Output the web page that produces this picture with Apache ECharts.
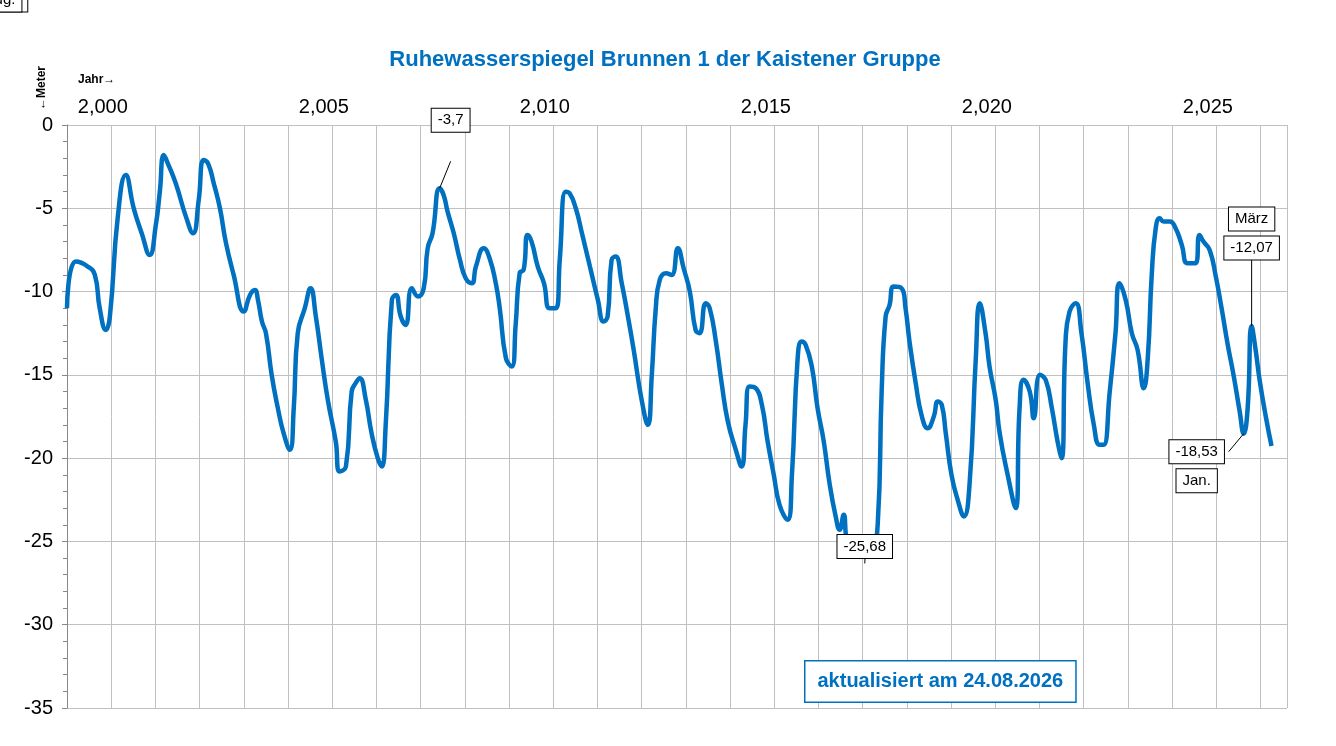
<!DOCTYPE html>
<html>
<head>
<meta charset="utf-8">
<script src="https://cdn.jsdelivr.net/npm/echarts@6/dist/echarts.min.js"></script>
<style>
  html, body { margin: 0; padding: 0; background: #fff; }
  #main { width: 1336px; height: 746px; }
</style>
</head>
<body>
<div id="main"></div>
<script>
// decimal year, water level in metres
const years = [1999.19,1999.39,1999.66,1999.82,1999.93,2000.07,2000.16,2000.34,2000.52,2000.70,2000.88,2001.06,2001.20,2001.29,2001.38,2001.47,2001.65,2001.88,2002.04,2002.17,2002.28,2002.38,2002.51,2002.65,2002.78,2002.96,2003.19,2003.33,2003.44,2003.51,2003.60,2003.69,2003.82,2003.96,2004.09,2004.23,2004.32,2004.41,2004.57,2004.70,2004.82,2004.95,2005.09,2005.27,2005.36,2005.50,2005.63,2005.72,2005.81,2005.95,2006.08,2006.22,2006.31,2006.40,2006.54,2006.63,2006.74,2006.85,2006.99,2007.13,2007.26,2007.35,2007.46,2007.62,2007.71,2007.80,2007.94,2008.08,2008.21,2008.35,2008.44,2008.62,2008.75,2008.89,2008.98,2009.12,2009.25,2009.34,2009.43,2009.52,2009.61,2009.70,2009.84,2009.98,2010.11,2010.25,2010.34,2010.47,2010.56,2010.70,2010.84,2011.02,2011.20,2011.33,2011.42,2011.51,2011.60,2011.74,2011.88,2012.01,2012.19,2012.33,2012.42,2012.51,2012.60,2012.74,2012.87,2013.01,2013.14,2013.28,2013.41,2013.50,2013.64,2013.73,2013.87,2014.00,2014.14,2014.32,2014.45,2014.54,2014.63,2014.77,2014.91,2015.04,2015.18,2015.31,2015.49,2015.59,2015.72,2015.81,2015.90,2016.04,2016.17,2016.31,2016.44,2016.58,2016.67,2016.76,2016.85,2016.99,2017.12,2017.26,2017.39,2017.53,2017.62,2017.71,2017.80,2017.89,2018.07,2018.16,2018.25,2018.39,2018.53,2018.66,2018.80,2018.89,2018.98,2019.07,2019.20,2019.34,2019.48,2019.61,2019.75,2019.84,2019.97,2020.06,2020.20,2020.29,2020.47,2020.65,2020.74,2020.83,2020.97,2021.06,2021.20,2021.33,2021.47,2021.60,2021.69,2021.78,2021.87,2022.01,2022.14,2022.28,2022.42,2022.55,2022.64,2022.78,2022.91,2023.00,2023.14,2023.28,2023.41,2023.55,2023.64,2023.73,2023.82,2023.91,2024.00,2024.14,2024.27,2024.41,2024.54,2024.72,2024.81,2024.90,2025.04,2025.18,2025.31,2025.45,2025.58,2025.72,2025.81,2025.90,2025.99,2026.08,2026.17,2026.31,2026.44];
const levels = [-11,-8.2,-8.5,-9,-11,-12.3,-11.5,-5.5,-3,-5,-6.5,-7.8,-6,-4,-1.8,-2.3,-3.5,-5.5,-6.5,-4.5,-2.1,-2.3,-3.5,-5,-7,-9,-11.2,-10.2,-9.9,-10.5,-11.8,-12.5,-15,-17,-18.5,-19.5,-17,-12.5,-11,-9.8,-11.5,-14,-16.5,-19,-20.8,-20.5,-16,-15.5,-15.2,-16.5,-18.5,-20,-20.5,-18,-10.5,-10.2,-11.5,-12,-9.8,-10.3,-9.8,-7.4,-6.5,-3.8,-4.2,-5.2,-6.5,-8.1,-9.2,-9.5,-8.5,-7.4,-8,-9.5,-11,-14,-14.5,-12,-8.9,-8.7,-6.6,-7,-8.5,-9.5,-11,-11,-8,-4,-4.1,-5,-6.5,-8.5,-10.5,-11.8,-11.5,-8.1,-7.9,-9.5,-11.5,-13.5,-16.5,-18,-15,-11,-9.3,-8.9,-9,-7.4,-8.6,-10,-12.3,-12.5,-10.7,-11,-13,-15.5,-17.8,-19.5,-20.5,-18,-15.7,-15.8,-16.8,-19,-21,-22.8,-23.7,-21,-14,-13,-13.2,-14.5,-17,-19,-21.5,-23.5,-24.3,-23.4,-25.2,-25.6,-25.68,-25.3,-25.5,-24,-16,-11.5,-10.8,-9.7,-9.8,-11,-13,-15.5,-17.5,-18.2,-17.5,-16.6,-16.8,-18.5,-21,-22.5,-23.5,-21.5,-14,-10.7,-12.5,-14.5,-16.5,-18.5,-21,-23,-17,-15.3,-16,-17.6,-15,-15.3,-17,-19,-20,-13,-11.2,-10.7,-12.5,-15.5,-18,-19.2,-19.2,-16,-12.5,-9.5,-10.5,-12.5,-13.5,-15.8,-14,-9,-6.2,-5.6,-5.8,-5.8,-6.2,-7.2,-8.3,-8.3,-6.6,-7,-7.5,-9.1,-11,-13.2,-15,-17.2,-18.53,-17,-12.07,-13.5,-15.3,-17.5,-19.27];
const yearLabels = [2000, 2005, 2010, 2015, 2020, 2025];
// annotations: point index, text lines, box offset (px) from point
const notes = [
  { i: 63, lines: ['-3,7'], dx: 11, dy: -39 },
  { i: 141, lines: ['-25,68'], dx: -1, dy: 29 },
  { i: 212, lines: ['-18,53', 'Jan.'], dx: -47, dy: 18 },
  { i: 214, lines: ['März', '-12,07'], dx: 0, dy: -78 },
  { i: 219, lines: ['-19,27', 'Aug.'], dx: -21, dy: 66 }
];

const chart = echarts.init(document.getElementById('main'));
const font = 'Liberation Sans, Arial, sans-serif';
chart.setOption({
  animation: false,
  title: {
    text: 'Ruhewasserspiegel Brunnen 1 der Kaistener Gruppe',
    left: 660, top: 44, textAlign: 'center',
    textStyle: { color: '#0070C0', fontSize: 22, fontWeight: 'bold', fontFamily: font }
  },
  grid: { left: 67, right: 49, top: 125, bottom: 38 },
  xAxis: [{
    type: 'value', position: 'top', min: 1999.19, max: 2026.79,
    axisLine: { show: false }, axisTick: { show: false }, splitLine: { show: false },
    axisLabel: { customValues: yearLabels, fontSize: 20, color: '#000', fontFamily: font, margin: 8 }
  }, {
    type: 'value', min: 0, max: 27.6, interval: 1, position: 'bottom',
    axisLabel: { show: false }, axisTick: { show: false }, axisLine: { show: false },
    splitLine: { lineStyle: { color: '#c0c0c0' } }
  }],
  yAxis: {
    type: 'value', min: -35, max: 0, interval: 5,
    axisLabel: { fontSize: 20, color: '#000', fontFamily: font, margin: 14 },
    axisLine: { show: true, lineStyle: { color: '#888' } },
    axisTick: { show: true, inside: false, length: 5, lineStyle: { color: '#888' } },
    minorTick: { show: true, splitNumber: 5, length: 4, lineStyle: { color: '#888' } },
    splitLine: { lineStyle: { color: '#c0c0c0' } }
  },
  series: [{
    type: 'line', xAxisIndex: 0, smooth: 0.5, showSymbol: false,
    data: years.map((y, k) => [y, levels[k]]),
    lineStyle: { color: '#0070C0', width: 4.5 }
  }]
});

// annotation boxes with leader lines, placed via the axes
const g = [];
notes.forEach(n => {
  const p = chart.convertToPixel({ xAxisIndex: 0, yAxisIndex: 0 }, [years[n.i], levels[n.i]]);
  const bx = p[0] + n.dx, by = p[1] + n.dy;
  const lineH = 29;
  n.lines.forEach((t, k) => {
    const cy = by + (k - (n.lines.length === 2 && n.lines[0].startsWith('-') ? 0 : 1)) * lineH;
    g.push({
      type: 'text', x: bx, y: cy, z: 10,
      style: {
        text: t, align: 'center', verticalAlign: 'middle', fill: '#000',
        font: '15px ' + font, backgroundColor: '#fff',
        borderColor: '#000', borderWidth: 1, padding: [4, 6]
      }
    });
  });
  const ex = n.dx < -30 ? bx + 32 : bx;
  const ey = n.dx < -30 ? by : (n.dy < 0 ? by + 12 : by - 12);
  g.push({ type: 'line', z: 9, shape: { x1: p[0], y1: p[1], x2: ex, y2: ey }, style: { stroke: '#000', lineWidth: 1 } });
});
g.push({
  type: 'text', left: 804, top: 660, z: 10,
  style: {
    text: 'aktualisiert am 24.08.2026', fill: '#0070C0', font: 'bold 20px ' + font,
    backgroundColor: '#fff', borderColor: '#0070C0', borderWidth: 1.5, padding: [10, 12]
  }
});
g.push({ type: 'text', left: 78, top: 74, style: { text: 'Jahr→', font: 'bold 12px ' + font, fill: '#000' } });
g.push({ type: 'text', x: 36, y: 110, rotation: Math.PI / 2, style: { text: '←Meter', font: 'bold 12px ' + font, fill: '#000' } });
chart.setOption({ graphic: g });
</script>
</body>
</html>
